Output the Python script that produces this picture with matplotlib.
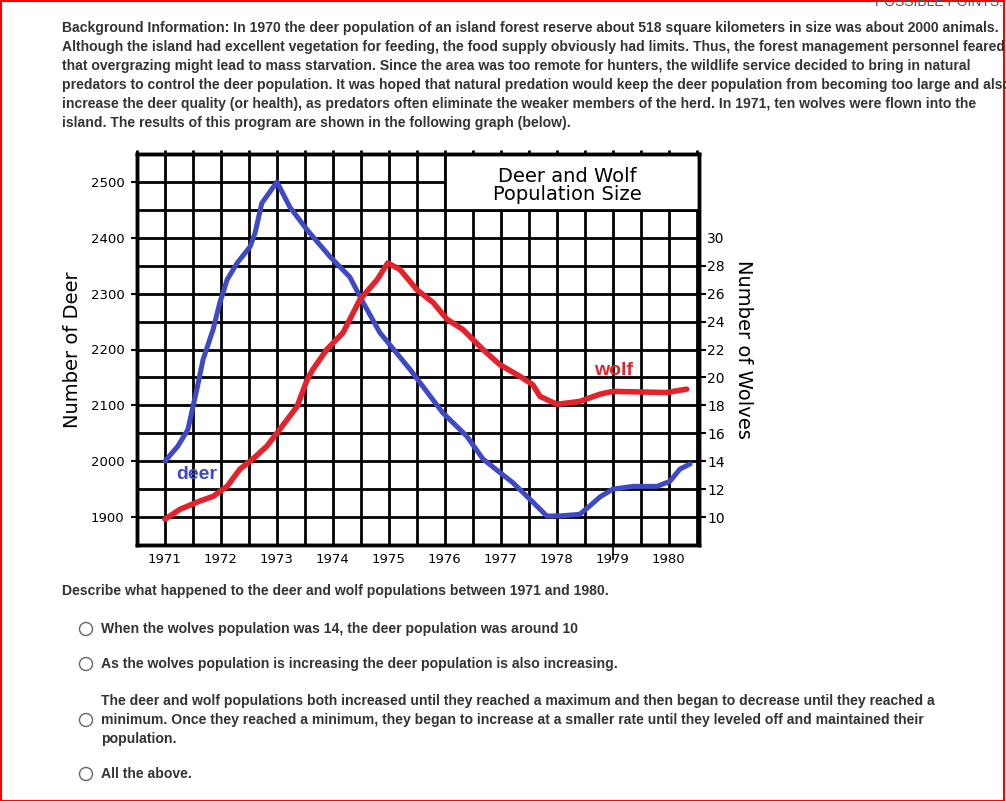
import matplotlib.pyplot as plt
from matplotlib.patches import Rectangle, Circle

# hand-drawn deer curve (year, number of deer)
deer_years = [1971.0, 1971.23, 1971.41, 1971.5, 1971.57, 1971.68, 1971.86, 1971.98, 1972.04,
              1972.11, 1972.29, 1972.52, 1972.61, 1972.73, 1973.0, 1973.23, 1973.54, 1973.95,
              1974.3, 1974.54, 1974.84, 1975.38, 1975.96, 1976.39, 1976.68, 1976.98, 1977.21,
              1977.57, 1977.82, 1978.05, 1978.41, 1978.59, 1978.77, 1979.0, 1979.36, 1979.79,
              1980.02, 1980.2, 1980.38]
deer_counts = [2000, 2027, 2057, 2098, 2129, 2182, 2236, 2284, 2302,
               2325, 2355, 2384, 2409, 2462, 2500, 2455, 2414, 2366,
               2330, 2284, 2230, 2164, 2087, 2045, 2004, 1980, 1962,
               1927, 1902, 1902, 1905, 1920, 1936, 1950, 1955, 1955,
               1964, 1986, 1995]

# hand-drawn wolf curve (year, number of wolves)
wolf_years = [1971.0, 1971.27, 1971.63, 1971.86, 1972.11, 1972.34, 1972.57, 1972.82, 1973.05,
              1973.36, 1973.54, 1973.64, 1973.89, 1974.18, 1974.48, 1974.79, 1974.98, 1975.2,
              1975.5, 1975.79, 1976.04, 1976.32, 1976.68, 1976.98, 1977.34, 1977.57, 1977.7,
              1978.0, 1978.41, 1978.77, 1979.0, 1979.96, 1980.32]
wolf_counts = [9.85, 10.56, 11.16, 11.48, 12.2, 13.44, 14.16, 15.08, 16.28,
               17.92, 19.84, 20.56, 22.0, 23.2, 25.56, 27.0, 28.2, 27.72,
               26.28, 25.36, 24.16, 23.44, 22.0, 20.92, 20.08, 19.48, 18.64,
               18.08, 18.28, 18.8, 19.0, 18.92, 19.16]

year_labels = list(range(1971, 1981))
deer_ticks = [1900, 2000, 2100, 2200, 2300, 2400, 2500]
wolf_ticks = list(range(10, 31, 2))

background = [
    "Background Information: In 1970 the deer population of an island forest reserve about 518 square kilometers in size was about 2000 animals.",
    "Although the island had excellent vegetation for feeding, the food supply obviously had limits. Thus, the forest management personnel feared",
    "that overgrazing might lead to mass starvation. Since the area was too remote for hunters, the wildlife service decided to bring in natural",
    "predators to control the deer population. It was hoped that natural predation would keep the deer population from becoming too large and also",
    "increase the deer quality (or health), as predators often eliminate the weaker members of the herd. In 1971, ten wolves were flown into the",
    "island. The results of this program are shown in the following graph (below).",
]
question = "Describe what happened to the deer and wolf populations between 1971 and 1980."
options = [
    ["When the wolves population was 14, the deer population was around 10"],
    ["As the wolves population is increasing the deer population is also increasing."],
    ["The deer and wolf populations both increased until they reached a maximum and then began to decrease until they reached a",
     "minimum. Once they reached a minimum, they began to increase at a smaller rate until they leveled off and maintained their",
     "population."],
    ["All the above."],
]

W, H = 1006, 801
fig = plt.figure(figsize=(W / 100, H / 100), dpi=100)
fig.patch.set_facecolor('white')


def fx(px):
    return px / W


def fy(py):
    return 1 - py / H


page_font = dict(family='Liberation Sans', fontweight='bold', color='#333333', fontsize=10.05)

# page text above the chart
fig.text(fx(1003), fy(2), "POSSIBLE POINTS:", ha='right', va='center', family='Liberation Sans',
         fontsize=10, color='#555555')
for i, line in enumerate(background):
    fig.text(fx(62), fy(28 + i * 19.1), line, ha='left', va='center', **page_font)

# chart
ax_w = 699 - 137
ax = fig.add_axes([fx(137), fy(545), ax_w / W, (545 - 154) / H])
ax.set_xlim(1970.5, 1980.54)
ax.set_ylim(1850, 2550)
ax.set_xticks(year_labels, [str(y) for y in year_labels])
ax.set_xticks([y + 0.5 for y in range(1970, 1981)], minor=True)
ax.set_yticks(deer_ticks, [str(d) for d in deer_ticks])
ax.set_yticks([d + 50 for d in range(1800, 2600, 100)], minor=True)
ax.set_axisbelow(True)
ax.grid(True, which='both', color='black', linewidth=2.0)
ax.tick_params(axis='x', which='both', labelsize=9.5, pad=3, bottom=False, top=True,
               length=3, width=2, direction='out')
ax.tick_params(axis='y', which='major', length=4, width=1.5, labelsize=9.5, pad=5)
ax.tick_params(axis='y', which='minor', length=0)
for s in ax.spines.values():
    s.set_linewidth(2.5)

# title box
ax.add_patch(Rectangle((1976.0, 2450), 4.54, 100, facecolor='white', edgecolor='black',
                       linewidth=2.0, zorder=1))
ax.text(1978.18, 2493, "Deer and Wolf\nPopulation Size", ha='center', va='center',
        fontsize=14, linespacing=0.95, color='black', zorder=3)

deer_color = '#4049c4'
wolf_color = '#e3232b'
ax.plot(deer_years, deer_counts, color=deer_color, linewidth=3.6, solid_capstyle='round',
        solid_joinstyle='round', zorder=2)
ax.text(1971.57, 1977, "deer", color=deer_color, fontsize=14, fontweight='bold',
        family='Liberation Sans', ha='center', va='center', zorder=3)

ax.set_ylabel("Number of Deer", fontsize=14)
ax.yaxis.set_label_coords((82 - 137) / ax_w, 0.5)

# stray pen stroke through the 1979 label
ax.plot([1979.0, 1979.0], [1850, 1825], color='black', linewidth=1.2, clip_on=False)

ax2 = ax.twinx()
ax2.set_ylim(8, 36)
ax2.set_yticks(wolf_ticks, [str(w) for w in wolf_ticks])
ax2.tick_params(axis='y', length=5, width=1.5, labelsize=10, pad=1)
ax2.yaxis.get_major_ticks()[-1].tick2line.set_visible(False)
for s in ax2.spines.values():
    s.set_linewidth(2.5)
ax2.plot(wolf_years, wolf_counts, color=wolf_color, linewidth=4.0, solid_capstyle='round',
         solid_joinstyle='round')
ax2.text(1979.02, 20.5, "wolf", color=wolf_color, fontsize=14, fontweight='bold',
         family='Liberation Sans', ha='center', va='center')
ax2.set_ylabel("Number of Wolves", fontsize=14, rotation=-90)
ax2.yaxis.set_label_coords((753 - 137) / ax_w, 0.5)

# question and answer choices
fig.text(fx(62), fy(591), question, ha='left', va='center', **page_font)
rows = [[629], [664], [701, 720, 739], [774]]
for opt, ys in zip(options, rows):
    for line, yy in zip(opt, ys):
        fig.text(fx(101), fy(yy), line, ha='left', va='center', **page_font)
    cy = ys[len(ys) // 2]
    fig.patches.append(Circle((86, H - cy), 6.5, transform=None, facecolor='white',
                              edgecolor='#666666', linewidth=1.0))

# red page frame
fig.patches.append(Rectangle((0.5, 0.5), W - 3, H - 1.5, transform=None, fill=False,
                             edgecolor='#ff0000', linewidth=1.5))

fig.savefig('out.png', dpi=100)
